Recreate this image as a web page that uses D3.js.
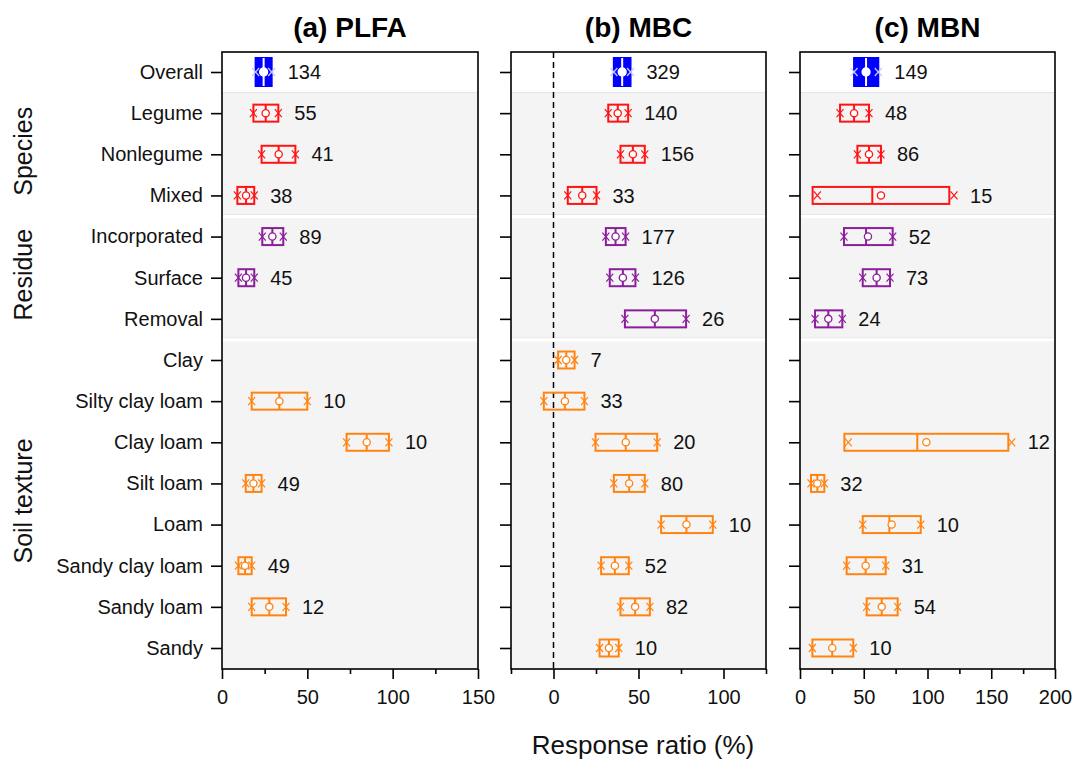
<!DOCTYPE html>
<html>
<head>
<meta charset="utf-8">
<script src="https://cdn.jsdelivr.net/npm/d3@7/dist/d3.min.js"></script>
<style>
  html, body { margin: 0; padding: 0; background: #ffffff; }
  svg { display: block; font-family: Arial, "Liberation Sans", sans-serif; }
</style>
</head>
<body>
<svg id="chart" width="1072" height="759"></svg>
<script>
// ---------------- DATA ----------------
const categories = ["Overall", "Legume", "Nonlegume", "Mixed", "Incorporated", "Surface", "Removal",
  "Clay", "Silty clay loam", "Clay loam", "Silt loam", "Loam", "Sandy clay loam", "Sandy loam", "Sandy"];
const rowGroup = ["overall", "species", "species", "species", "residue", "residue", "residue",
  "soil", "soil", "soil", "soil", "soil", "soil", "soil", "soil"];
const groupNames = ["Species", "Residue", "Soil texture"];
const groupKeys = ["species", "residue", "soil"];
const panelTitles = ["(a) PLFA", "(b) MBC", "(c) MBN"];
const axisTitle = "Response ratio (%)";

// (a) PLFA
const plfaLo   = [19.7, 18.4, 23.2, 9.0, 23.6, 9.6, null, null, 17.4, 73.0, 13.9, null, 9.6, 17.4, null];
const plfaHi   = [29.1, 33.0, 43.0, 18.9, 35.9, 18.9, null, null, 50.0, 97.8, 23.2, null, 17.4, 37.5, null];
const plfaMed  = [24.4, 25.6, 33.2, 14.1, 29.5, 14.1, null, null, 33.6, 84.8, 18.4, null, 13.5, 27.7, null];
const plfaMean = [24.4, 25.6, 33.2, 14.1, 29.5, 14.1, null, null, 33.6, 84.8, 18.4, null, 13.5, 27.7, null];
const plfaN    = [134, 55, 41, 38, 89, 45, null, null, 10, 10, 49, null, 49, 12, null];

// (b) MBC
const mbcLo   = [35.5, 32.2, 39.4, 8.4, 30.8, 33.1, 42.0, 2.7, -5.7, 24.7, 35.5, 63.3, 28.0, 39.4, 27.1];
const mbcHi   = [45.3, 43.9, 53.7, 25.3, 42.4, 48.2, 78.0, 12.4, 18.2, 61.0, 53.7, 93.7, 44.3, 56.7, 38.4];
const mbcMed  = [40.4, 37.8, 46.7, 16.9, 36.5, 40.8, 59.6, 7.5, 6.7, 42.5, 44.5, 78.2, 36.1, 48.0, 32.6];
const mbcMean = [40.4, 37.8, 46.7, 16.9, 36.5, 40.8, 59.6, 7.5, 6.7, 42.5, 44.5, 78.2, 36.1, 48.0, 32.6];
const mbcN    = [329, 140, 156, 33, 177, 126, 26, 7, 33, 20, 80, 10, 52, 82, 10];

// (c) MBN
const mbnLo   = [42.4, 31.4, 45.0, 9.9, 34.5, 49.2, 11.8, null, null, 34.8, 8.6, 49.2, 36.6, 52.3, 9.7];
const mbnHi   = [61.4, 54.1, 63.5, 117.1, 72.7, 70.6, 33.2, null, null, 163.4, 19.1, 94.7, 67.2, 76.6, 41.8];
const mbnMed  = [51.8, 42.4, 54.1, 56.7, 51.8, 60.1, 22.2, null, null, 92.0, 13.6, 70.1, 51.5, 64.1, 25.3];
const mbnMean = [51.8, 42.4, 54.1, 63.5, 53.3, 60.1, 22.2, null, null, 99.1, 13.6, 71.9, 51.5, 64.1, 25.3];
const mbnMarkLo = [null, null, null, 13.6, null, null, null, null, null, 37.9, null, null, null, null, null];
const mbnMarkHi = [null, null, null, 120.8, null, null, null, null, null, 166.0, null, null, null, null, null];
const mbnN    = [149, 48, 86, 15, 52, 73, 24, null, null, 12, 32, 10, 31, 54, 10];

// axis ticks
const plfaTicks = [0, 50, 100, 150];
const plfaMinor = [25, 75, 125];
const mbcTicks = [0, 50, 100];
const mbcMinor = [-25, 25, 75, 125];
const mbnTicks = [0, 50, 100, 150, 200];
const mbnMinor = [25, 75, 125, 175];

// ---------------- LAYOUT ----------------
const svg = d3.select("#chart");
const plotTop = 52, plotBottom = 669;
const colors = { overall: "#0000ff", species: "#ff1414", residue: "#8b1f9b", soil: "#ff8412" };
const FONT = 20;

const panels = [
  { title: panelTitles[0], lo: plfaLo, hi: plfaHi, med: plfaMed, mean: plfaMean, n: plfaN,
    domain: [0, 150], ticks: plfaTicks, minor: plfaMinor, x0: 222, x1: 478, labels: true },
  { title: panelTitles[1], lo: mbcLo, hi: mbcHi, med: mbcMed, mean: mbcMean, n: mbcN,
    domain: [-25, 125], ticks: mbcTicks, minor: mbcMinor, x0: 511, x1: 766, labels: false, zero: true },
  { title: panelTitles[2], lo: mbnLo, hi: mbnHi, med: mbnMed, mean: mbnMean, n: mbnN,
    markLo: mbnMarkLo, markHi: mbnMarkHi,
    domain: [0, 200], ticks: mbnTicks, minor: mbnMinor, x0: 800, x1: 1055, labels: false }
];

const y = d3.scalePoint().domain(categories).range([72, 648]);
const step = y.step();
const rowEdge = i => y(categories[i]) + step / 2;

panels.forEach(p => {
  const x = d3.scaleLinear().domain(p.domain).range([p.x0, p.x1]);
  const g = svg.append("g");
  const w = p.x1 - p.x0;

  // backgrounds
  g.append("rect").attr("x", p.x0).attr("y", plotTop).attr("width", w).attr("height", plotBottom - plotTop)
    .attr("fill", "#f4f4f4");
  g.append("rect").attr("x", p.x0).attr("y", plotTop).attr("width", w).attr("height", rowEdge(0) - plotTop)
    .attr("fill", "#ffffff");
  g.append("line").attr("x1", p.x0).attr("x2", p.x1).attr("y1", rowEdge(0)).attr("y2", rowEdge(0))
    .attr("stroke", "#e4e4e4").attr("stroke-width", 1);
  [3, 6].forEach(i => {
    const yy = rowEdge(i);
    g.append("line").attr("x1", p.x0).attr("x2", p.x1).attr("y1", yy - 1.5).attr("y2", yy - 1.5)
      .attr("stroke", "#e6e6e6").attr("stroke-width", 1);
    g.append("rect").attr("x", p.x0).attr("y", yy - 1).attr("width", w).attr("height", 3)
      .attr("fill", "#ffffff");
  });

  // zero line
  if (p.zero) {
    g.append("line").attr("x1", x(0)).attr("x2", x(0)).attr("y1", plotTop).attr("y2", plotBottom)
      .attr("stroke", "#000").attr("stroke-width", 1.5).attr("stroke-dasharray", "6,4");
  }

  // boxes
  categories.forEach((c, i) => {
    if (p.lo[i] == null) return;
    const grp = rowGroup[i];
    const col = colors[grp];
    const cy = y(c);
    const isOverall = grp === "overall";
    const h = isOverall ? 28 : 17;
    const xl = x(p.lo[i]), xh = x(p.hi[i]);
    const mlo = p.markLo && p.markLo[i] != null ? p.markLo[i] : p.lo[i];
    const mhi = p.markHi && p.markHi[i] != null ? p.markHi[i] : p.hi[i];
    const bg = g.append("g");
    bg.append("rect").attr("x", xl).attr("y", cy - h / 2).attr("width", xh - xl).attr("height", h)
      .attr("fill", isOverall ? col : "none").attr("stroke", col).attr("stroke-width", 2);
    bg.append("line").attr("x1", x(p.med[i])).attr("x2", x(p.med[i]))
      .attr("y1", cy - h / 2).attr("y2", cy + h / 2)
      .attr("stroke", isOverall ? "#ffffff" : col).attr("stroke-width", 2);
    // x markers
    const mk = isOverall ? "#c9c9ff" : col;
    [mlo, mhi].forEach(v => {
      const mx = x(v);
      bg.append("path").attr("d", `M${mx - 3.5},${cy - 4}L${mx + 3.5},${cy + 4}M${mx - 3.5},${cy + 4}L${mx + 3.5},${cy - 4}`)
        .attr("stroke", mk).attr("stroke-width", 1.2).attr("fill", "none");
    });
    // mean circle
    bg.append("circle").attr("cx", x(p.mean[i])).attr("cy", cy).attr("r", isOverall ? 4 : 3.6)
      .attr("fill", "#ffffff").attr("stroke", isOverall ? "#ffffff" : col).attr("stroke-width", 1.3);
    // sample size label
    g.append("text").attr("x", Math.max(xh, x(mhi)) + 16).attr("y", cy).attr("dy", "0.36em")
      .attr("font-size", FONT).attr("fill", "#111").text(p.n[i]);
  });

  // frame
  g.append("rect").attr("x", p.x0).attr("y", plotTop).attr("width", w).attr("height", plotBottom - plotTop)
    .attr("fill", "none").attr("stroke", "#000").attr("stroke-width", 1.6);

  // x axis
  const xa = g.append("g").attr("transform", `translate(0,${plotBottom})`)
    .call(d3.axisBottom(x).tickValues(p.ticks).tickSize(10).tickPadding(11).tickFormat(d3.format("d")));
  xa.select(".domain").remove();
  xa.selectAll(".tick line").attr("stroke-width", 1.6);
  xa.selectAll("text").attr("font-size", FONT).attr("fill", "#111").attr("font-family", null);
  const xm = g.append("g").attr("transform", `translate(0,${plotBottom})`)
    .call(d3.axisBottom(x).tickValues(p.minor).tickSize(5).tickFormat(""));
  xm.select(".domain").remove();
  xm.selectAll(".tick line").attr("stroke-width", 1.6);

  // y axis
  const ya = g.append("g").attr("transform", `translate(${p.x0},0)`)
    .call(d3.axisLeft(y).tickSize(11).tickPadding(8).tickFormat(p.labels ? (d => d) : ""));
  ya.select(".domain").remove();
  ya.selectAll(".tick line").attr("stroke-width", 1.6);
  ya.selectAll("text").attr("font-size", FONT).attr("fill", "#111").attr("font-family", null);

  // title
  svg.append("text").attr("x", (p.x0 + p.x1) / 2).attr("y", 37).attr("text-anchor", "middle")
    .attr("font-size", 28).attr("font-weight", "bold").attr("fill", "#000").text(p.title);
});

// group labels
groupKeys.forEach((k, gi) => {
  const idx = rowGroup.map((r, i) => r === k ? i : -1).filter(i => i >= 0);
  const y0 = y(categories[idx[0]]) - step / 2;
  const y1 = y(categories[idx[idx.length - 1]]) + step / 2;
  const cy = (y0 + y1) / 2 - 3;
  svg.append("text").attr("transform", `translate(32,${cy}) rotate(-90)`)
    .attr("text-anchor", "middle").attr("font-size", 25).attr("fill", "#111").text(groupNames[gi]);
});

// axis title
svg.append("text").attr("x", 643).attr("y", 754).attr("text-anchor", "middle")
  .attr("font-size", 26).attr("fill", "#111").text(axisTitle);
</script>
</body>
</html>
